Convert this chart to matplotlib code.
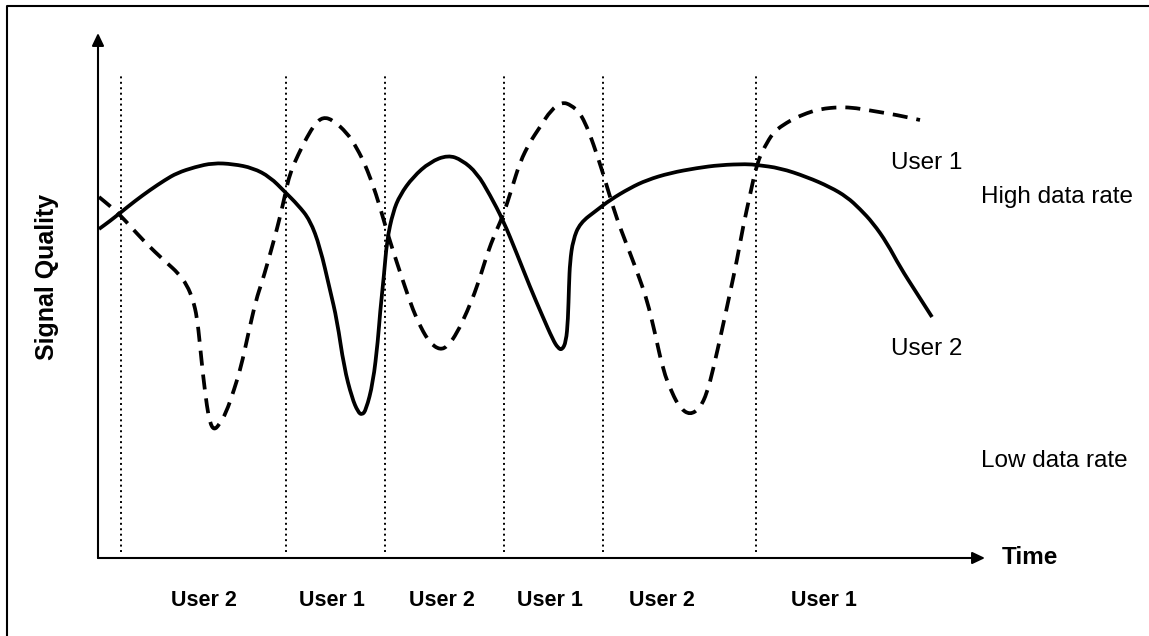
import matplotlib
matplotlib.use("Agg")
import matplotlib.pyplot as plt
from matplotlib.lines import Line2D
from matplotlib.path import Path
from matplotlib.patches import PathPatch

plt.rcParams['font.family'] = ['Liberation Sans', 'DejaVu Sans']

# ---- data (time, signal quality), arbitrary units ----
user1_t = [1, 12, 22, 37, 52, 67, 79, 97, 115, 135,
           155, 172, 187, 200, 212, 222, 232, 239, 246, 254,
           260, 264, 268, 275, 280, 282, 286, 289, 295, 302,
           315, 332, 350, 364, 379, 392, 405, 419, 432, 444,
           455, 460, 464, 468, 470, 471, 472, 475, 482, 499,
           512, 532, 549, 572, 599, 622, 649, 659, 682, 709,
           732, 749, 762, 775, 789, 802, 818, 834]
user1_q = [329, 337, 345, 357, 368, 378, 385, 391, 395, 394,
           390, 381, 366, 353, 338, 311, 268, 238, 191, 160,
           146, 143, 148, 175, 218, 245, 283, 318, 346, 363,
           381, 396, 403, 398, 385, 363, 338, 304, 271, 243,
           218, 210, 208, 216, 238, 273, 296, 318, 335, 348,
           358, 370, 378, 385, 390, 393, 394, 393, 390, 381,
           371, 361, 349, 335, 315, 291, 266, 241]

user2_t = [1, 12, 22, 33, 45, 57, 69, 80, 89, 95,
           99, 102, 105, 109, 112, 116, 121, 128, 136, 143,
           150, 158, 164, 169, 176, 182, 187, 192, 200, 209,
           217, 225, 235, 249, 257, 265, 274, 282, 290, 299,
           307, 315, 323, 332, 342, 350, 359, 369, 379, 387,
           395, 405, 414, 422, 432, 442, 453, 464, 473, 482,
           489, 495, 505, 515, 523, 532, 541, 549, 557, 565,
           574, 582, 592, 602, 609, 615, 624, 632, 639, 645,
           652, 659, 667, 675, 682, 695, 709, 722, 742, 758,
           775, 799, 822]
user2_q = [361, 352, 343, 331, 318, 306, 295, 285, 273, 258,
           241, 213, 183, 151, 135, 128, 133, 145, 168, 191,
           223, 258, 276, 293, 318, 341, 363, 385, 403, 421,
           434, 441, 438, 425, 413, 398, 376, 351, 323, 295,
           271, 248, 230, 215, 208, 212, 225, 246, 271, 297,
           320, 342, 370, 396, 416, 431, 448, 456, 453, 445,
           431, 415, 385, 351, 328, 305, 281, 258, 225, 188,
           165, 150, 143, 150, 165, 188, 228, 265, 298, 331,
           363, 395, 412, 425, 431, 439, 445, 449, 451, 450,
           447, 443, 438]

boundaries_t = [23, 188, 287, 406, 505, 658]
slot_labels = ["User 2", "User 1", "User 2", "User 1", "User 2", "User 1"]
slot_centers_t = [106, 234, 344, 452, 564, 726]


def smooth_path(ts, qs):
    """Quadratic-Bezier path using the read points as control points."""
    pts = list(zip(ts, qs))
    verts = [pts[0], ((pts[0][0] + pts[1][0]) / 2, (pts[0][1] + pts[1][1]) / 2)]
    codes = [Path.MOVETO, Path.LINETO]
    for i in range(1, len(pts) - 1):
        nxt = pts[i + 1]
        mid = ((pts[i][0] + nxt[0]) / 2, (pts[i][1] + nxt[1]) / 2)
        verts += [pts[i], mid]
        codes += [Path.CURVE3, Path.CURVE3]
    verts.append(pts[-1])
    codes.append(Path.LINETO)
    return Path(verts, codes)


# ---- figure ----
W, H, DPI = 1149, 636, 100
fig = plt.figure(figsize=(W / DPI, H / DPI), dpi=DPI)
ax = fig.add_axes([0, 0, 1, 1])
ax.set_xlim(-98, W - 98)
ax.set_ylim(-(H - 558), 558)
ax.axis('off')

# outer frame (only left and top edges visible)
fx = 7 / W
fy = 1 - 6 / H
fig.add_artist(Line2D([fx, fx, 1.01], [-0.01, fy, fy], transform=fig.transFigure,
                      color='black', lw=1.5))

# vertical dotted slot boundaries
for t in boundaries_t:
    ax.plot([t, t], [6, 485], color='black', lw=1.4, ls=(0, (1, 1.8)))

# axes arrows
arrow_kw = dict(arrowstyle='-|>,head_length=0.42,head_width=0.2', color='black',
                lw=1.5, mutation_scale=18, shrinkA=0, shrinkB=0)
ax.annotate('', xy=(0, 525), xytext=(0, 0), arrowprops=arrow_kw)
ax.annotate('', xy=(887, 0), xytext=(0, 0), arrowprops=arrow_kw)

# curves
ax.add_patch(PathPatch(smooth_path(user1_t, user1_q), fill=False, edgecolor='black',
                       lw=2.7, capstyle='butt', joinstyle='round'))
ax.add_patch(PathPatch(smooth_path(user2_t, user2_q), fill=False, edgecolor='black',
                       lw=2.7, ls=(0, (4.0, 2.4)), capstyle='butt', joinstyle='round'))

# texts
for t, lab in zip(slot_centers_t, slot_labels):
    ax.text(t, -42, lab, ha='center', va='center', fontsize=15.5, fontweight='bold')

ax.text(904, 1, "Time", ha='left', va='center', fontsize=17.5, fontweight='bold')
ax.text(-51, 281, "Signal Quality", ha='center', va='center', rotation=90,
        fontsize=18, fontweight='bold')
ax.text(829, 395, "User 1", ha='center', va='center', fontsize=17.5)
ax.text(959, 361, "High data rate", ha='center', va='center', fontsize=17.5)
ax.text(829, 209, "User 2", ha='center', va='center', fontsize=17.5)
ax.text(956, 97, "Low data rate", ha='center', va='center', fontsize=17.5)

fig.savefig("out.png", dpi=DPI)
